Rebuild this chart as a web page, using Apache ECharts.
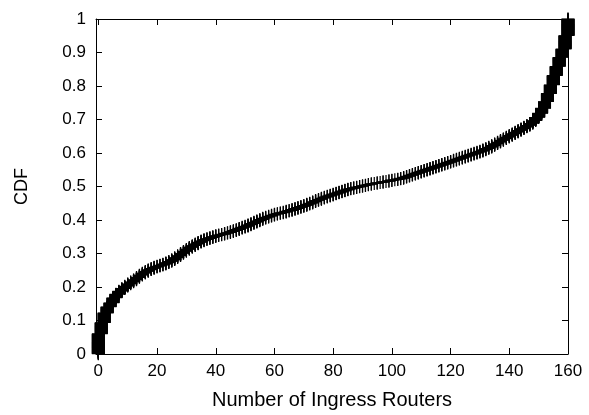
<!DOCTYPE html>
<html>
<head>
<meta charset="utf-8">
<script src="https://cdn.jsdelivr.net/npm/echarts@6/dist/echarts.min.js"></script>
<style>
html,body{margin:0;padding:0;background:#fff;}
#chart{width:589px;height:415px;}
</style>
</head>
<body>
<div id="chart"></div>
<script>
// Number of ingress routers observed: 0 .. 160
var routerValues = [];
for (var r = 0; r <= 160; r++) routerValues.push(r);
// How many samples (out of 1000) have each number of ingress routers, read from the CDF steps
var sampleCounts = [
  60,33,29,18,12,15,11,9,8,7,            // 0-9
  7,6,6,7,7,6,5,5,4,4,                   // 10-19
  3,3,3,4,4,5,6,6,7,6,                   // 20-29
  6,6,5,5,5,4,4,3,3,3,                   // 30-39
  3,2,2,3,2,3,3,3,4,3,                   // 40-49
  3,4,4,4,4,4,4,3,3,3,                   // 50-59
  3,2,2,2,3,2,3,3,3,3,                   // 60-69
  3,4,3,4,4,3,4,3,3,3,                   // 70-79
  3,3,3,3,3,3,2,2,2,2,                   // 80-89
  2,2,2,2,1,2,1,2,1,2,                   // 90-99
  2,1,2,2,3,3,3,3,3,3,                   // 100-109
  3,3,3,3,3,3,3,3,3,3,                   // 110-119
  3,3,3,3,3,3,3,3,3,3,                   // 120-129
  3,4,4,4,5,5,5,5,5,5,                   // 130-139
  5,5,5,5,5,5,5,6,8,10,                  // 140-149
  12,15,20,24,26,28,27,27,25,40,         // 150-159
  50                                     // 160
];
var xTicks = [0,20,40,60,80,100,120,140,160];
var yTicks = [0,0.1,0.2,0.3,0.4,0.5,0.6,0.7,0.8,0.9,1];
var xTitle = 'Number of Ingress Routers';
var yTitle = 'CDF';

// empirical CDF: one point per sample, at (routers, rank / total)
var total = sampleCounts.reduce(function(a,b){return a+b;}, 0);
var points = [];
var cum = 0;
routerValues.forEach(function(x, i){
  for (var k = 0; k < sampleCounts[i]; k++){
    cum++;
    points.push([x, cum / total]);
  }
});

var FONT = '"Liberation Sans", Arial, Helvetica, sans-serif';
var plus = 'path://M0,5.9 L13,5.9 L13,7.1 L0,7.1 Z M5.9,0 L7.1,0 L7.1,13 L5.9,13 Z';

function xAxisCfg(pos, showLabels){
  return {
    type:'value', position:pos, min:-0.8, max:160,
    axisLine:{show:true, onZero:false, lineStyle:{color:'#000', width:1}},
    axisTick:{show:true, inside:true, length:6, customValues:xTicks, lineStyle:{color:'#000'}},
    axisLabel:{show:showLabels, customValues:xTicks, color:'#000', fontSize:17, fontFamily:FONT, margin:9},
    splitLine:{show:false},
    name: showLabels ? xTitle : '', nameLocation:'middle', nameGap:36,
    nameTextStyle:{color:'#000', fontSize:20, fontFamily:FONT}
  };
}
function yAxisCfg(pos, showLabels){
  return {
    type:'value', position:pos, min:0, max:1, interval:0.1,
    axisLine:{show:true, onZero:false, lineStyle:{color:'#000', width:1}},
    axisTick:{show:true, inside:true, length:6, lineStyle:{color:'#000'}},
    axisLabel:{show:showLabels, color:'#000', fontSize:17, fontFamily:FONT, margin:10,
      formatter:function(v){ return String(+v.toFixed(1)); }},
    splitLine:{show:false},
    name: showLabels ? yTitle : '', nameLocation:'middle', nameGap:65, nameRotate:90,
    nameTextStyle:{color:'#000', fontSize:18, fontFamily:FONT}
  };
}

var chart = echarts.init(document.getElementById('chart'), null, {renderer:'canvas'});
chart.setOption({
  backgroundColor:'#fff',
  animation:false,
  grid:{left:96, right:21, top:19, bottom:57, containLabel:false},
  xAxis:[xAxisCfg('bottom', true), xAxisCfg('top', false)],
  yAxis:[yAxisCfg('left', true), yAxisCfg('right', false)],
  series:[{
    type:'line',
    data:points,
    xAxisIndex:0, yAxisIndex:0,
    symbol:plus,
    symbolSize:13,
    showAllSymbol:true,
    clip:false,
    silent:true,
    itemStyle:{color:'#000'},
    lineStyle:{color:'#000', width:1.2},
    emphasis:{disabled:true}
  }]
});
</script>
</body>
</html>
